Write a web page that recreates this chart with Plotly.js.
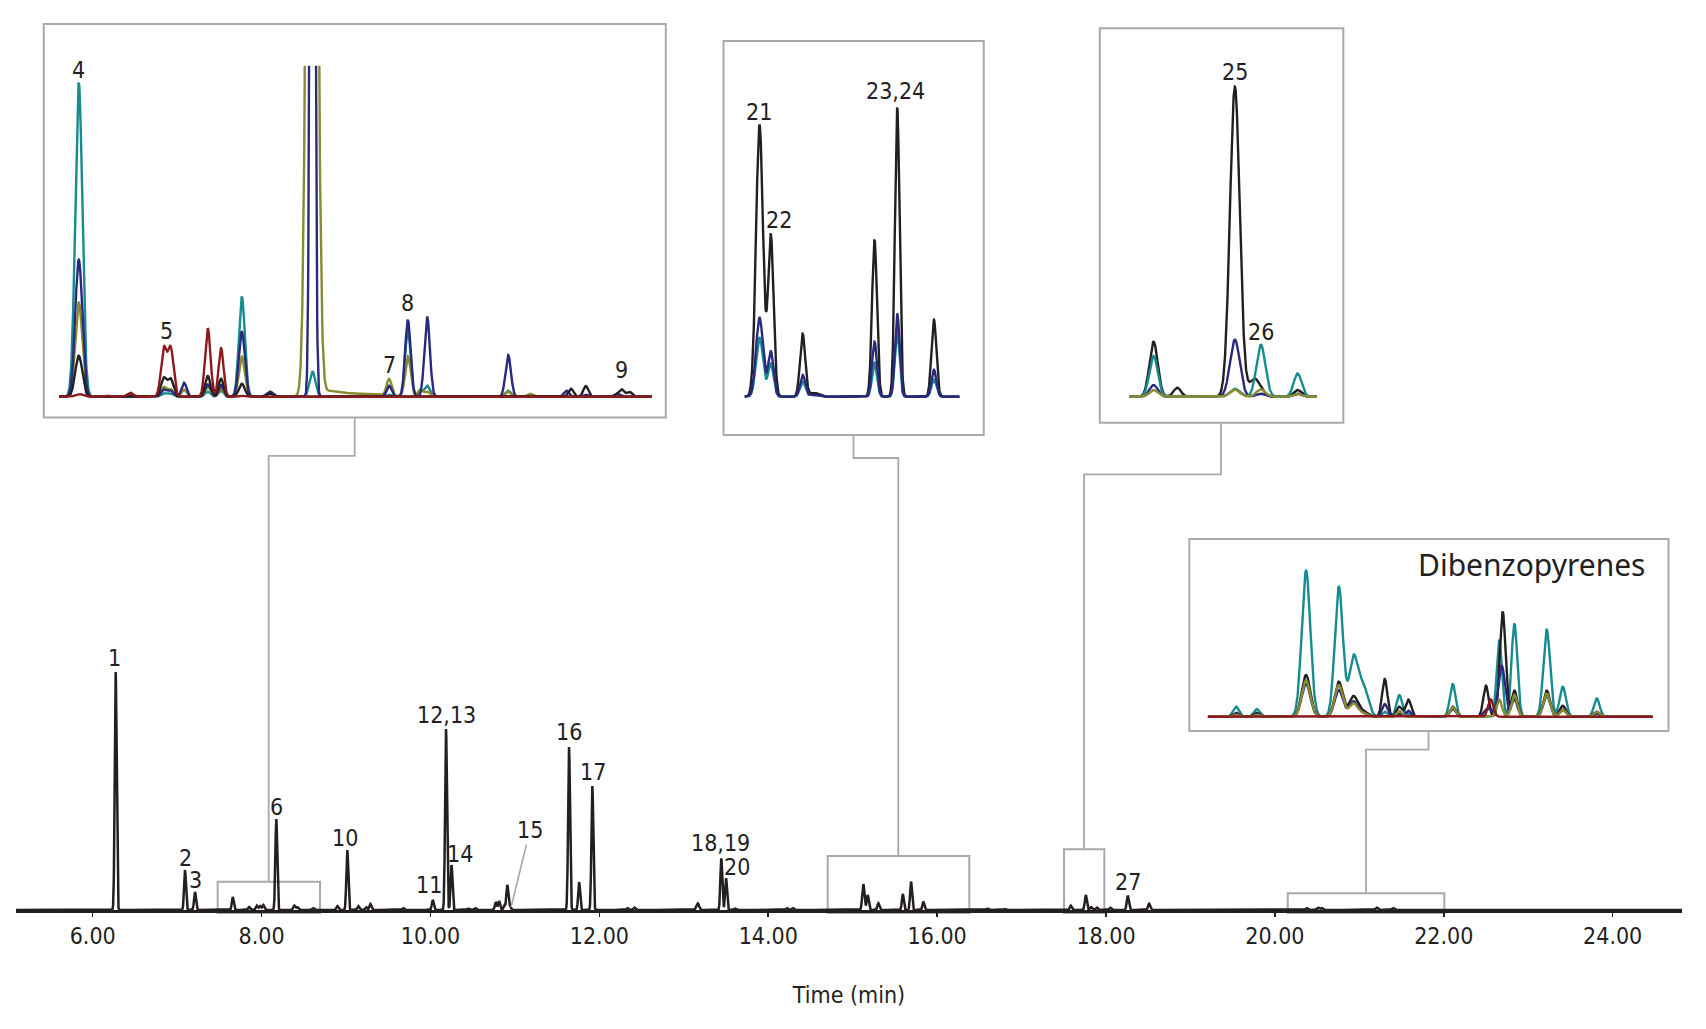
<!DOCTYPE html>
<html>
<head>
<meta charset="utf-8">
<script src="https://cdn.plot.ly/plotly-3.0.1.min.js"></script>
<style>
html,body{margin:0;padding:0;background:#ffffff;}
#chart{width:1706px;height:1029px;}
</style>
</head>
<body>
<div id="chart"></div>
<script>
// ================= DATA =================
// Main total-ion chromatogram: peak retention time (min), height (rel. units), width (sigma, min)
const mainPeakTime = [6.272, 7.093, 7.211, 7.658, 7.851, 7.942, 7.981, 8.020, 8.174, 8.387,
  8.423, 8.612, 8.897, 9.015, 9.145, 9.237, 9.288, 9.675, 10.027, 10.184,
  10.249, 10.448, 10.530, 10.773, 10.812, 10.875, 10.910, 10.942, 11.641, 11.760,
  11.917, 12.330, 12.414, 13.165, 13.444, 13.500, 13.607, 14.220, 14.290, 15.126,
  15.178, 15.304, 15.593, 15.691, 15.837, 16.595, 16.804, 17.582, 17.760, 17.822,
  17.890, 18.050, 18.257, 18.510, 20.377, 20.510, 20.555, 21.206, 21.400];
const mainPeakHeight = [238, 40, 18, 13, 3, 4.5, 4, 5, 91, 4.5,
  3, 2, 4, 60, 4, 3, 6, 2, 10, 181,
  45, 1.5, 2, 8, 9, 5, 25, 4, 163, 28,
  124, 2, 2.5, 6.7, 51.6, 32, 1.5, 2, 2, 26,
  15, 6.7, 16, 28.3, 8.3, 1.5, 1, 4.3, 15, 3,
  2.5, 2.3, 14.3, 6.3, 2, 2.3, 2, 2.5, 2];
const mainPeakWidth = [0.011, 0.011, 0.011, 0.011, 0.012, 0.012, 0.012, 0.012, 0.011, 0.012,
  0.012, 0.012, 0.012, 0.011, 0.012, 0.012, 0.012, 0.012, 0.011, 0.011,
  0.011, 0.012, 0.012, 0.011, 0.011, 0.011, 0.011, 0.011, 0.011, 0.011,
  0.011, 0.012, 0.012, 0.016, 0.011, 0.011, 0.012, 0.012, 0.012, 0.013,
  0.012, 0.012, 0.011, 0.011, 0.011, 0.012, 0.012, 0.012, 0.012, 0.012,
  0.012, 0.012, 0.012, 0.012, 0.014, 0.014, 0.014, 0.014, 0.014];

// Peak labels on the main trace
const mainLabelText = ["1", "2", "3", "6", "10", "11", "12,13", "14", "16", "17", "18,19", "20", "27"];
const mainLabelTime = [6.264, 7.096, 7.215, 8.174, 8.988, 9.982, 10.184, 10.350, 11.641, 11.929, 13.437, 13.626, 18.264];
const mainLabelHeight = [251.7, 51.7, 30, 102.7, 71.7, 25, 195, 55.7, 178.3, 138.3, 66.7, 43.3, 28.3];
const leaderLabel = "15";
const leaderLabelPos = [11.179, 80];   // label (time, height)
const leaderTarget = [10.955, 3];      // peak pointed at

// Zoomed regions of the main trace [start, end] (min)
const zoomRegions = [[7.480, 8.692], [14.704, 16.381], [17.503, 17.980], [20.152, 22.006]];

// Inset 1 (7.5 - 8.7 min), extracted-ion channels
const ins1Time  = [7.540, 7.597, 7.644, 7.712, 7.726, 7.753, 7.801, 7.828, 7.870, 7.927, 8.012, 8.013, 8.013, 8.048, 8.099, 8.168, 8.206, 8.231, 8.245, 8.409, 8.453, 8.527, 8.536, 8.566, 8.629, 8.639, 8.654];
const ins1Width = [0.0071, 0.006, 0.006, 0.0057, 0.0057, 0.005, 0.0055, 0.005, 0.006, 0.006, 0.0083, 0.0039, 0.006, 0.0202, 0.0506, 0.005, 0.0055, 0.005, 0.0055, 0.0055, 0.005, 0.005, 0.005, 0.005, 0.005, 0.005, 0.005];
const ins1Teal  = [314, 0, 0, 3.5, 3, 0, 5, 6, 100, 5, 0, 0, 25, 0, 0, 2, 66.7, 5, 11, 6, 0, 0, 0, 0, 0, 0, 0];
const ins1Navy  = [137, 0, 0, 7, 6, 14, 12.4, 11.7, 65, 5, 0, 1500, 0, 0, 0, 11, 76.7, 0, 80, 41.7, 0, 6, 0, 2, 3, 0, 0];
const ins1Olive = [94, 1, 3, 9.5, 7, 7, 10, 8.4, 40, 5, 1500, 0, 0, 4, 3, 16.7, 40, 7, 5, 5, 3, 0, 0, 0, 0, 0, 0];
const ins1Black = [41, 0, 0, 18.5, 17.5, 0, 20.7, 18, 13, 3, 0, 0, 0, 0, 0, 0, 0, 0, 0, 0, 0, 0, 8, 10.7, 2, 7, 5];
const ins1Red   = [2.7, 1, 4, 48, 48, 0, 68.4, 48.4, 1, 0, 0, 0, 0, 0, 0, 0, 0, 0, 0, 0, 0, 0, 0, 0, 0, 0, 0];
const ins1Labels = ["4", "5", "7", "8", "9"];
const ins1LabelTime = [7.540, 7.717, 8.168, 8.206, 8.638];
const ins1LabelHeight = [326.7, 66, 31.7, 93.4, 26.7];

// Inset 2 (15.06 - 15.94 min)
const ins2Time  = [15.126, 15.172, 15.302, 15.347, 15.596, 15.689, 15.839];
const ins2Width = [0.0142, 0.0114, 0.0106, 0.020, 0.0100, 0.0095, 0.0100];
const ins2Black = [272, 161, 62.7, 4, 157, 289, 77];
const ins2Navy  = [79, 45, 21.7, 2, 55, 83, 27];
const ins2Teal  = [59, 33, 15, 2, 34, 65, 17];
const ins2Labels = ["21", "22", "23,24"];
const ins2LabelTime = [15.123, 15.206, 15.682];
const ins2LabelHeight = [285, 176.7, 305.7];

// Inset 3 (17.53 - 17.93 min)
const ins3Time  = [17.582, 17.633, 17.757, 17.800, 17.813, 17.892];
const ins3Width = [0.009, 0.008, 0.0105, 0.012, 0.0097, 0.0085];
const ins3Black = [55, 9, 310, 18, 0, 6.7];
const ins3Navy  = [11.7, 1, 57, 0, 3, 3];
const ins3Teal  = [40.7, 1, 8, 0, 52, 23.3];
const ins3Olive = [6.7, 1, 7, 0, 7.3, 3];
const ins3Labels = ["25", "26"];
const ins3LabelTime = [17.757, 17.814];
const ins3LabelHeight = [325, 65];

// Inset 4: dibenzopyrenes (20.14 - 22.0 min)
const ins4Title = "Dibenzopyrenes";
const ins4Time  = [20.258, 20.345, 20.551, 20.688, 20.749, 20.790, 20.880, 20.941, 20.979, 21.164, 21.303, 21.323, 21.359, 21.373, 21.422, 21.557, 21.624, 21.766];
const ins4Width = [0.012, 0.012, 0.018, 0.017, 0.018, 0.020, 0.011, 0.012, 0.011, 0.012, 0.011, 0.011, 0.011, 0.012, 0.012, 0.014, 0.013, 0.012];
const ins4Teal  = [10, 7.7, 146, 130, 58, 30, 5, 21.7, 3, 32.7, 0, 0, 76.7, 0, 93, 87, 30, 18.3];
const ins4Black = [4, 4, 41.7, 35, 20, 5, 37.7, 10, 17, 10, 31, 0, 0, 105, 26, 26, 11, 5];
const ins4Navy  = [3, 3, 33, 26.7, 15, 3, 12.7, 3, 6, 8, 6, 6, 20, 40, 18, 21.7, 7, 3];
const ins4Olive = [2, 2, 36, 31.7, 13, 3, 0, 5.7, 0, 9.3, 0, 0, 17, 0, 22, 23, 7, 5];
const ins4Red   = [0, 0, 0, 0, 0, 0, 0, 0, 0, 0, 0, 17.3, 0, 0, 0, 0, 0, 0];

const xTickLabelFormat = ".2f";
const xAxisTitle = "Time (min)";

// ================= STYLE / LAYOUT HELPERS =================
const W = 1706, H = 1029;
const PX = v => v / W;
const PY = v => 1 - v / H;
const INK = "#231f20", TEAL = "#178b8d", NAVY = "#29297f", OLIVE = "#8a8a30", RED = "#8c1a1d", BOXC = "#a9a9a9";
const NARROW = "DejaVu Sans Condensed, Liberation Sans Narrow, Arial Narrow, sans-serif";

function curve(x0, x1, step, times, widths, heights) {
  const xs = [], ys = [];
  const n = Math.round((x1 - x0) / step);
  for (let k = 0; k <= n; k++) {
    const x = x0 + k * step;
    let y = 0;
    for (let i = 0; i < times.length; i++) {
      const h = heights[i];
      if (!h) continue;
      const d = (x - times[i]) / widths[i];
      if (d > 9 || d < -9) continue;
      y += h * Math.exp(-0.5 * d * d);
    }
    xs.push(x); ys.push(y);
  }
  return {x: xs, y: ys};
}

function line(c, color, xa, ya, w) {
  return {type: "scatter", mode: "lines", x: c.x, y: c.y, xaxis: xa, yaxis: ya,
    line: {color: color, width: w || 2.4, shape: "linear"}, hoverinfo: "skip", showlegend: false};
}

// axis ranges (layout)
const mainRange = [5.0917, 24.821];
const r1 = [7.5, 8.7], r2 = [15.0645, 15.944], r3 = [17.530, 17.934], r4 = [20.14, 22.0];

const mainC = curve(mainRange[0], mainRange[1], 0.0015, mainPeakTime, mainPeakWidth, mainPeakHeight);

const traces = [
  line(mainC, INK, "x", "y", 2.5),
  line(curve(r1[0], r1[1], 0.0005, ins1Time, ins1Width, ins1Teal), TEAL, "x2", "y2"),
  line(curve(r1[0], r1[1], 0.0005, ins1Time, ins1Width, ins1Olive), OLIVE, "x2", "y2"),
  line(curve(r1[0], r1[1], 0.0005, ins1Time, ins1Width, ins1Navy), NAVY, "x2", "y2"),
  line(curve(r1[0], r1[1], 0.0005, ins1Time, ins1Width, ins1Black), INK, "x2", "y2"),
  line(curve(r1[0], r1[1], 0.0005, ins1Time, ins1Width, ins1Red), RED, "x2", "y2"),
  line(curve(r2[0], r2[1], 0.0005, ins2Time, ins2Width, ins2Teal), TEAL, "x3", "y3"),
  line(curve(r2[0], r2[1], 0.0005, ins2Time, ins2Width, ins2Black), INK, "x3", "y3"),
  line(curve(r2[0], r2[1], 0.0005, ins2Time, ins2Width, ins2Navy), NAVY, "x3", "y3"),
  line(curve(r3[0], r3[1], 0.0002, ins3Time, ins3Width, ins3Black), INK, "x4", "y4"),
  line(curve(r3[0], r3[1], 0.0002, ins3Time, ins3Width, ins3Navy), NAVY, "x4", "y4"),
  line(curve(r3[0], r3[1], 0.0002, ins3Time, ins3Width, ins3Teal), TEAL, "x4", "y4"),
  line(curve(r3[0], r3[1], 0.0002, ins3Time, ins3Width, ins3Olive), OLIVE, "x4", "y4"),
  line(curve(r4[0], r4[1], 0.001, ins4Time, ins4Width, ins4Teal), TEAL, "x5", "y5"),
  line(curve(r4[0], r4[1], 0.001, ins4Time, ins4Width, ins4Black), INK, "x5", "y5"),
  line(curve(r4[0], r4[1], 0.001, ins4Time, ins4Width, ins4Navy), NAVY, "x5", "y5"),
  line(curve(r4[0], r4[1], 0.001, ins4Time, ins4Width, ins4Olive), OLIVE, "x5", "y5"),
  line(curve(r4[0], r4[1], 0.001, ins4Time, ins4Width, ins4Red), RED, "x5", "y5")
];

const labFont = {family: NARROW, size: 23, color: INK};
const annotations = [];
function addLabels(texts, xs, ys, xr, yr) {
  texts.forEach((t, i) => annotations.push({text: t, x: xs[i], y: ys[i], xref: xr, yref: yr,
    showarrow: false, font: labFont, xanchor: "center", yanchor: "middle"}));
}
addLabels(mainLabelText, mainLabelTime, mainLabelHeight, "x", "y");
addLabels(ins1Labels, ins1LabelTime, ins1LabelHeight, "x2", "y2");
addLabels(ins2Labels, ins2LabelTime, ins2LabelHeight, "x3", "y3");
addLabels(ins3Labels, ins3LabelTime, ins3LabelHeight, "x4", "y4");
annotations.push({text: leaderLabel, x: leaderTarget[0], y: leaderTarget[1], xref: "x", yref: "y",
  ax: leaderLabelPos[0], ay: leaderLabelPos[1], axref: "x", ayref: "y",
  showarrow: true, arrowhead: 0, arrowwidth: 1.6, arrowcolor: BOXC, standoff: 0, startstandoff: 0,
  font: labFont});
annotations.push({text: ins4Title, xref: "paper", yref: "paper", x: PX(1648), y: PY(564),
  xanchor: "right", yanchor: "middle", showarrow: false,
  font: {family: "Noto Sans, Open Sans, sans-serif", size: 30, color: INK}});

// Inset frames, zoom-region boxes and connector lines
function rect(x0, y0, x1, y1) {
  return {type: "rect", xref: "paper", yref: "paper", x0: PX(x0), x1: PX(x1), y0: PY(y0), y1: PY(y1),
    line: {color: BOXC, width: 2}, fillcolor: "rgba(0,0,0,0)", layer: "above"};
}
function path(pts) {
  let d = "";
  pts.forEach((p, i) => { d += (i ? " L " : "M ") + PX(p[0]).toFixed(5) + "," + PY(p[1]).toFixed(5); });
  return {type: "path", xref: "paper", yref: "paper", path: d, line: {color: BOXC, width: 1.8}};
}
const zoomBoxTop = [881.7, 856, 849.3, 893.3];
const shapes = [
  rect(43.8, 24, 665.8, 417.5),
  rect(723.5, 41, 983.7, 435),
  rect(1099.8, 28.3, 1343.3, 422.7),
  rect(1189.3, 539, 1668.5, 731)
];
zoomRegions.forEach((r, i) => shapes.push({type: "rect", xref: "x", yref: "paper", x0: r[0], x1: r[1],
  y0: PY(913), y1: PY(zoomBoxTop[i]), line: {color: BOXC, width: 2}, fillcolor: "rgba(0,0,0,0)", layer: "below"}));
shapes.push(path([[354.7, 417.5], [354.7, 455.9], [268.7, 455.9], [268.7, 881.7]]));
shapes.push(path([[853.5, 435], [853.5, 458], [898.3, 458], [898.3, 856]]));
shapes.push(path([[1221, 422.7], [1221, 474.4], [1084, 474.4], [1084, 849.3]]));
shapes.push(path([[1428.5, 731], [1428.5, 749.6], [1366, 749.6], [1366, 893.3]]));

const hidden = {visible: false, showgrid: false, zeroline: false, fixedrange: true};

const layout = {
  width: W, height: H,
  margin: {l: 0, r: 0, t: 0, b: 0, pad: 0},
  paper_bgcolor: "#ffffff", plot_bgcolor: "rgba(0,0,0,0)",
  showlegend: false,
  xaxis: {domain: [PX(16), PX(1682)], range: mainRange, anchor: "y",
    showline: true, linecolor: INK, linewidth: 2.5, showgrid: false, zeroline: false,
    ticks: "outside", ticklen: 4, tickwidth: 1.5, tickcolor: INK,
    tick0: 6, dtick: 2, tickformat: xTickLabelFormat,
    tickfont: {family: NARROW, size: 23, color: INK},
    title: {text: xAxisTitle, font: {family: NARROW, size: 23, color: INK}, standoff: 39},
    fixedrange: true},
  yaxis: Object.assign({domain: [PY(910), 1], range: [0, 910], anchor: "x"}, hidden),
  xaxis2: Object.assign({domain: [PX(59), PX(652)], range: r1, anchor: "y2"}, hidden),
  yaxis2: Object.assign({domain: [PY(398.7), PY(65.7)], range: [-2, 331], anchor: "x2"}, hidden),
  xaxis3: Object.assign({domain: [PX(744.5), PX(959.6)], range: r2, anchor: "y3"}, hidden),
  yaxis3: Object.assign({domain: [PY(398.7), PY(60)], range: [-2, 336.7], anchor: "x3"}, hidden),
  xaxis4: Object.assign({domain: [PX(1129.4), PX(1317.1)], range: r3, anchor: "y4"}, hidden),
  yaxis4: Object.assign({domain: [PY(398.7), PY(45)], range: [-2, 351.7], anchor: "x4"}, hidden),
  xaxis5: Object.assign({domain: [PX(1207.7), PX(1652.7)], range: r4, anchor: "y5"}, hidden),
  yaxis5: Object.assign({domain: [PY(718.7), PY(560)], range: [-2, 156.7], anchor: "x5"}, hidden),
  annotations: annotations,
  shapes: shapes
};

Plotly.newPlot("chart", traces, layout, {staticPlot: true, displayModeBar: false});
</script>
</body>
</html>
